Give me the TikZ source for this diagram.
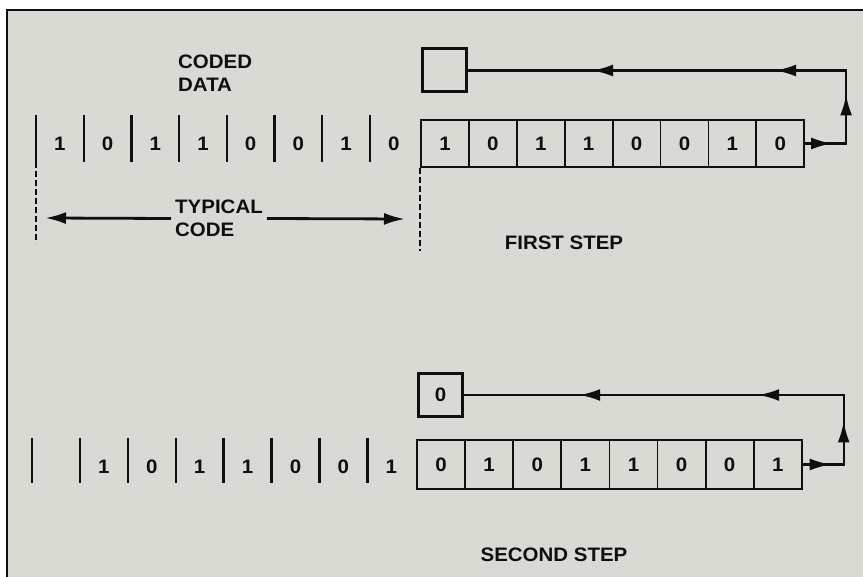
\documentclass[tikz,border=0pt]{standalone}
\usepackage{fontspec}
\newfontfamily\labelfont{Liberation Sans}[FakeStretch=1.05]
\usetikzlibrary{arrows.meta,decorations.markings}
\definecolor{paper}{RGB}{218,218,212}
\definecolor{ink}{RGB}{15,15,15}
\tikzset{flowtip/.tip={Latex[length=21pt,width=12pt]}}

\begin{document}
\begin{tikzpicture}[x=1pt, y=-1pt, font={\labelfont\bfseries\fontsize{19.5}{23}\selectfont},
      draw=ink, text=ink,
      cellnode/.style={draw, line width=1.8pt, inner sep=0pt, minimum width=47.9pt, minimum height=47pt},
      outnode/.style={draw, line width=3pt, inner sep=0pt, minimum width=44pt, minimum height=43pt},
      bitlabel/.style={inner sep=0pt},
      textnode/.style={align=left, inner sep=4pt},
      tickline/.style={line width=2.4pt},
      guideline/.style={line width=2.2pt, dash pattern=on 6pt off 3pt},
      feedline/.style={line width=2.4pt},
      loopmarks/.style n args={4}{postaction={decorate}, decoration={markings,
          mark=at position #1 with {\arrow{flowtip}}, mark=at position #2 with {\arrow{flowtip}},
          mark=at position #3 with {\arrow{flowtip}}, mark=at position #4 with {\arrow{flowtip}}}}]
    \useasboundingbox (0,0) rectangle (863,577);
    \fill[paper] (7,10) rectangle (863,577);
    \draw[line width=2.6pt] (863,10) -- (7,10) -- (7,577);

    % first step
    \node[textnode, anchor=west] (coded) at (174,73.5) {CODED\\DATA};
    \foreach \v [count=\i] in {1,0,1,1,0,0,1,0} {
      \draw[tickline] ({36+47.7*(\i-1)},115) -- ++(0,47);
      \node[bitlabel] (ta\i) at ({36+47.7*(\i-0.5)},144) {\v};
      \node[cellnode] (a\i) at ({444.95+47.9*(\i-1)},143.5) {\v};
    }
    \node[outnode] (qa) at (444,70.5) {};
    \draw[feedline, loopmarks={27pt}{90pt}{185pt}{368pt}] (a8.east) -- ++(41,0) |- (qa.east);
    \draw[guideline] (36,162) -- (36,243);
    \draw[guideline] (a1.south west) -- ++(0,83);
    \node[textnode, anchor=west] (typ) at (171,218.5) {TYPICAL\\CODE};
    \coordinate (typl) at (45,218);
    \coordinate (typr) at (405,219);
    \draw[-flowtip, line width=2.8pt] (typ.west) -- (typl);
    \draw[-flowtip, line width=2.8pt] (typ.east) -- (typr);
    \node (first) at (564,243) {FIRST STEP};

    % second step
    \foreach \i in {0,...,7}
      \draw[tickline] ({32+47.9*\i},438) -- ++(0,45);
    \foreach \v [count=\i from 2] in {1,0,1,1,0,0,1}
      \node[bitlabel] (tb\i) at ({32+47.9*(\i-0.5)},467) {\v};
    \foreach \v [count=\i] in {0,1,0,1,1,0,0,1}
      \node[cellnode, minimum width=48.1pt, minimum height=49pt] (b\i) at ({441.05+48.1*(\i-1)},464.5) {\v};
    \node[outnode] (qb) at (440.5,395) {0};
    \draw[feedline, loopmarks={28pt}{84pt}{196pt}{375pt}] (b8.east) -- ++(41,0) |- (qb.east);
    \node (second) at (554,555) {SECOND STEP};
  \end{tikzpicture}
\end{document}
